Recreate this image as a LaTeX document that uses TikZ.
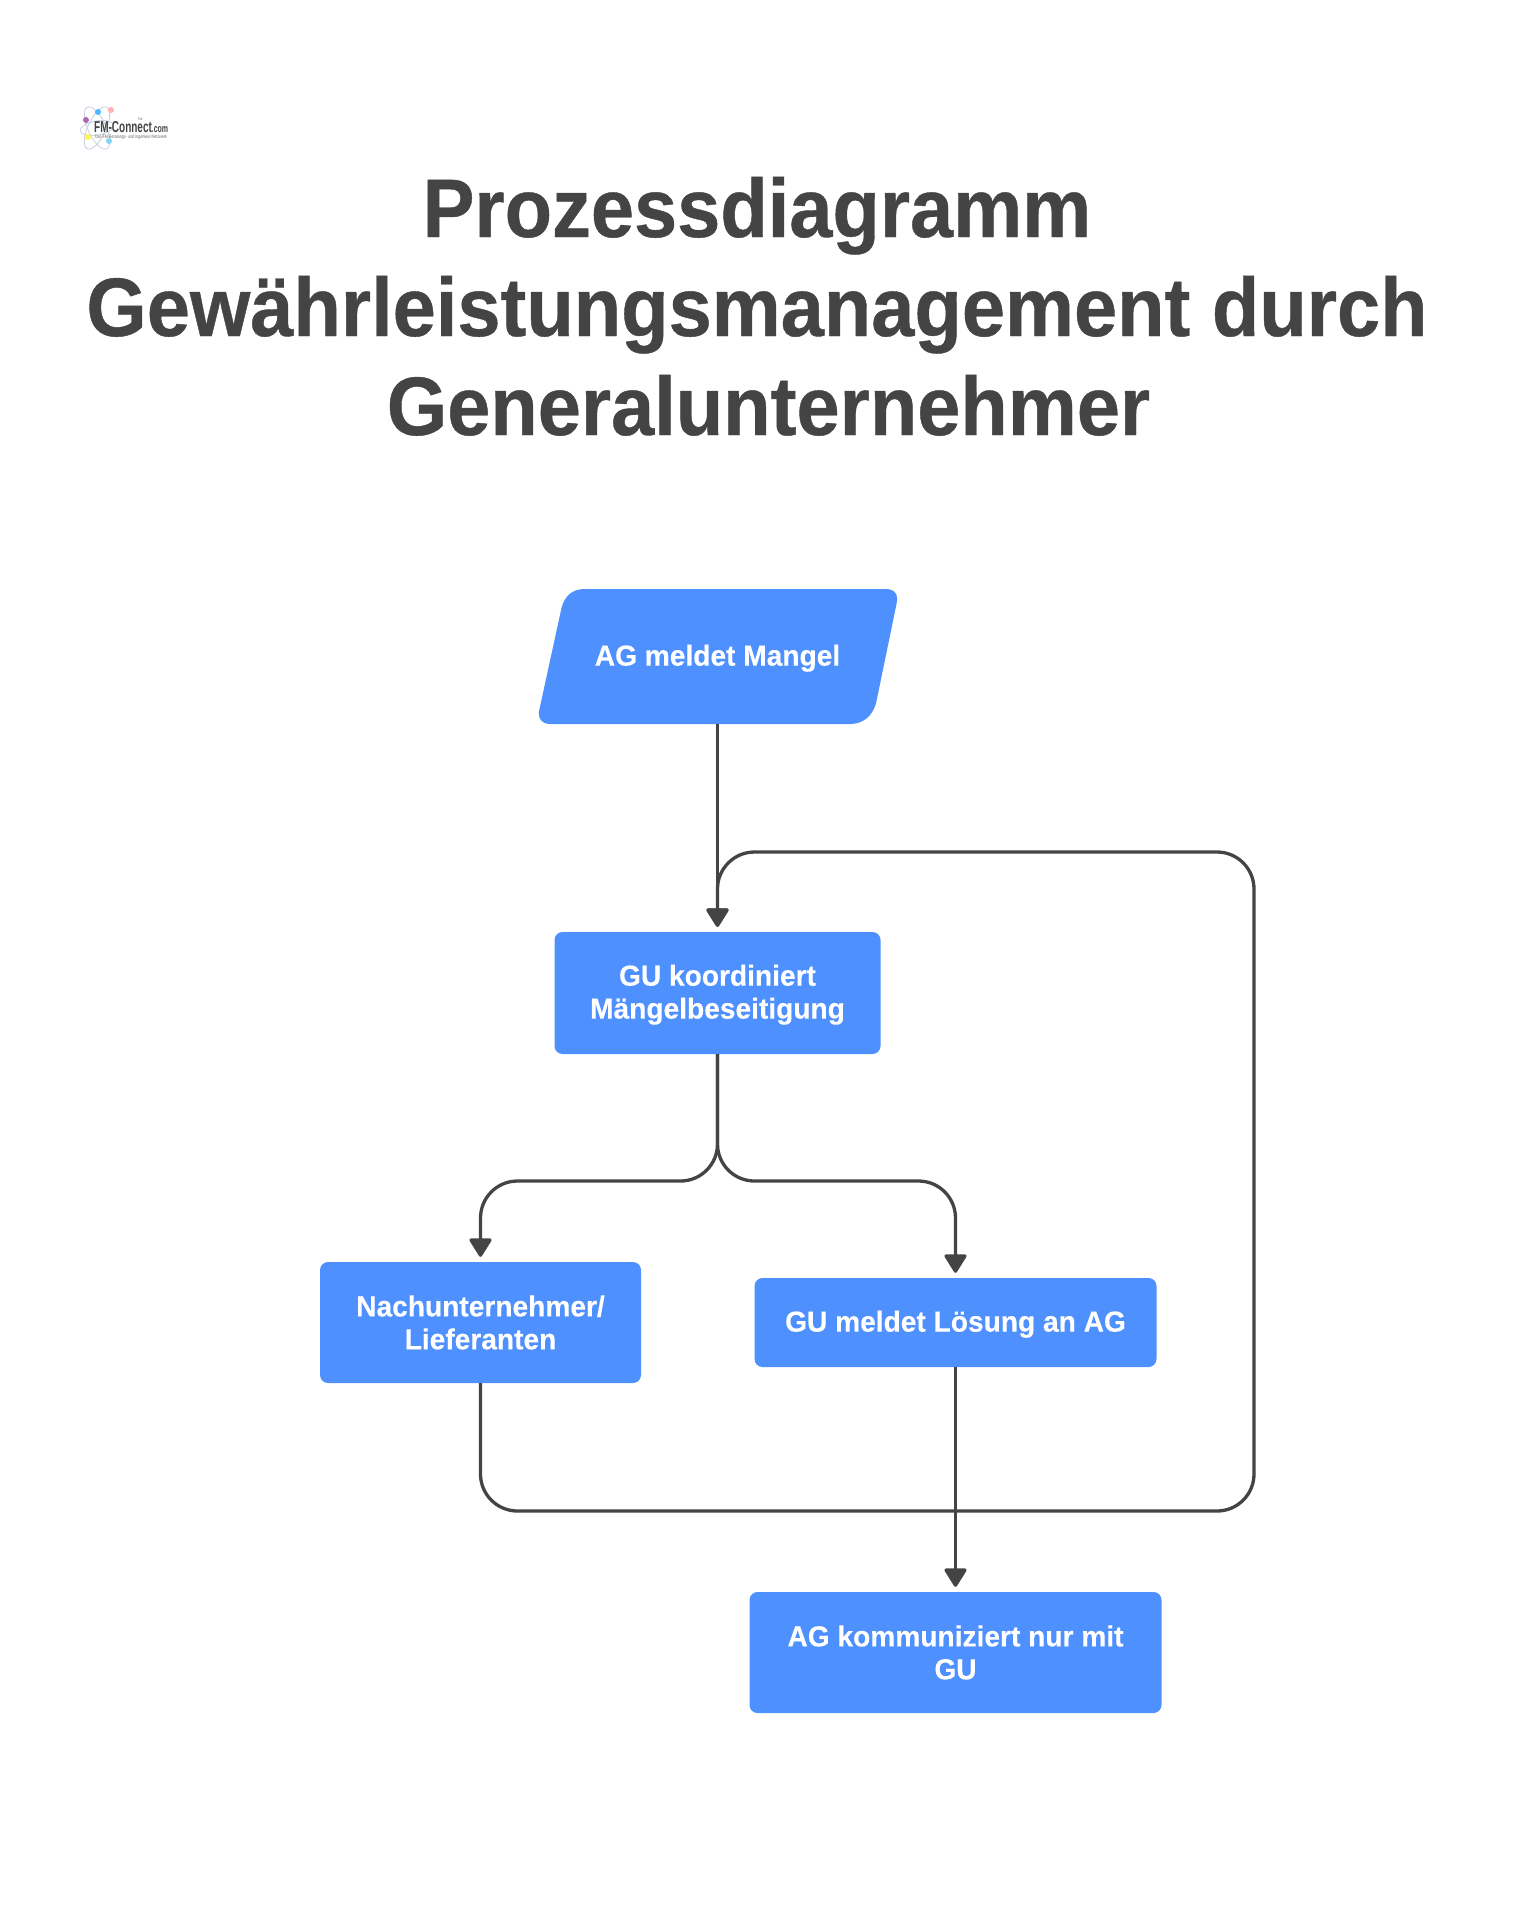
\documentclass[tikz,border=0pt]{standalone}
\usepackage{fontspec}
\setmainfont{Liberation Sans}
\newfontfamily\titleface{Liberation Sans}[UprightFont=* Bold,FakeStretch=0.935,FakeBold=0.5]
\newfontfamily\bodyface{Liberation Sans}[UprightFont=* Bold,FakeStretch=0.97,FakeBold=0.2]
\newcommand{\dropline}{\rule{0pt}{24.4pt}}
\definecolor{boxblue}{HTML}{4F90FF}
\definecolor{inkgrey}{HTML}{444444}
\definecolor{orbit}{HTML}{C8D0DC}
\usetikzlibrary{arrows.meta}
\tikzset{
  flowbox/.style={fill=boxblue,rounded corners=8pt,inner sep=0pt,text=white,align=center,font=\fontsize{29}{32.9}\bodyface},
  plainlabel/.style={inner sep=0pt,text=white,align=center,font=\fontsize{29}{32.9}\bodyface},
  link/.style={draw=inkgrey,line width=3.3pt,rounded corners=37pt},
  tip/.style={-{Triangle[length=20pt,width=24pt,round]}},
  titlefont/.style={inner sep=0pt,anchor=base,text=inkgrey,font=\fontsize{83}{99}\titleface},
  orbitline/.style={draw=orbit,line width=.8pt}
}
\begin{document}
\begin{tikzpicture}[x=1pt,y=-1pt]
\useasboundingbox (0,0) rectangle (1534,1920);
\node[titlefont] (t1) at (757,237) {Prozessdiagramm};
\node[titlefont] (t2) at (757,336) {Gewährleistungsmanagement durch};
\node[titlefont] (t3) at (768.5,435) {Generalunternehmer};
% logo
\draw[orbitline,rotate around={65:(97,128)}] (97,128) ellipse (23 and 9);
\draw[orbitline,rotate around={-65:(97,128)}] (97,128) ellipse (23 and 9);
\draw[orbitline,rotate around={10:(97,128)}] (97,128) ellipse (17 and 7);
\fill[violet!60] (86,120) circle (3);
\fill[blue!40!cyan!70] (98,112) circle (3);
\fill[red!30] (111,110) circle (3);
\fill[yellow!70] (88,137) circle (3);
\fill[cyan!50] (109,141) circle (3);
\node[inner sep=0pt,anchor=base west,text=inkgrey] (logo) at (94,132) {\resizebox{74pt}{11pt}{\bfseries FM-Connect{\fontsize{7}{7}\selectfont.com}}};
\node[inner sep=0pt,anchor=center,text=inkgrey!80] (logosub) at (131,137) {\resizebox{72pt}{3.6pt}{Das FM-Beratungs- und Ingenieur-Netzwerk}};
\node[inner sep=0pt,text=inkgrey!80,font=\fontsize{3.5}{4}\selectfont] (logotm) at (140,119) {TM};
% parallelogram
\fill[boxblue] (584.5,589) -- (885.5,589) .. controls (895.5,589) and (898.5,595) .. (896.5,604)
  -- (876.5,701) .. controls (873.5,716) and (862.5,724) .. (850.5,724)
  -- (550.5,724) .. controls (540.5,724) and (537.5,717) .. (539.5,709)
  -- (561.5,608) .. controls (564.5,596) and (572.5,589) .. (584.5,589) -- cycle;
\node[plainlabel,minimum width=358pt,minimum height=135pt] (a) at (717.5,656.5) {\dropline AG meldet Mangel};
\node[flowbox,minimum width=326pt,minimum height=122pt] (b) at (717.5,993) {\dropline GU koordiniert\\Mängelbeseitigung};
\node[flowbox,minimum width=321pt,minimum height=121pt] (c) at (480.5,1322.5) {Nachunternehmer/\\Lieferanten};
\node[flowbox,minimum width=402pt,minimum height=89pt] (d) at (955.5,1322.5) {\dropline GU meldet Lösung an AG};
\node[flowbox,minimum width=412pt,minimum height=121pt] (e) at (955.5,1652.5) {AG kommuniziert nur mit\\GU};
\coordinate (jl) at (c.north |- 0,1181);
\coordinate (jr) at (d.north |- 0,1181);
\coordinate (jm) at (b.south |- 0,1181);
\coordinate (bl) at (c.south |- 0,1511);
\coordinate (br) at (1254,1511);
\coordinate (tr) at (1254,852);
\coordinate (tl) at (b.north |- 0,852);
\draw[link,tip] (a.south) -- ([yshift=5pt]b.north);
\draw[link,tip] (c.south) -- (bl) -- (br) -- (tr) -- (tl) -- ([yshift=5pt]b.north);
\draw[link,tip] (b.south) -- (jm) -- (jl) -- ([yshift=5pt]c.north);
\draw[link,tip] (b.south) -- (jm) -- (jr) -- ([yshift=5pt]d.north);
\draw[link,tip] (d.south) -- ([yshift=5pt]e.north);
\end{tikzpicture}
\end{document}
